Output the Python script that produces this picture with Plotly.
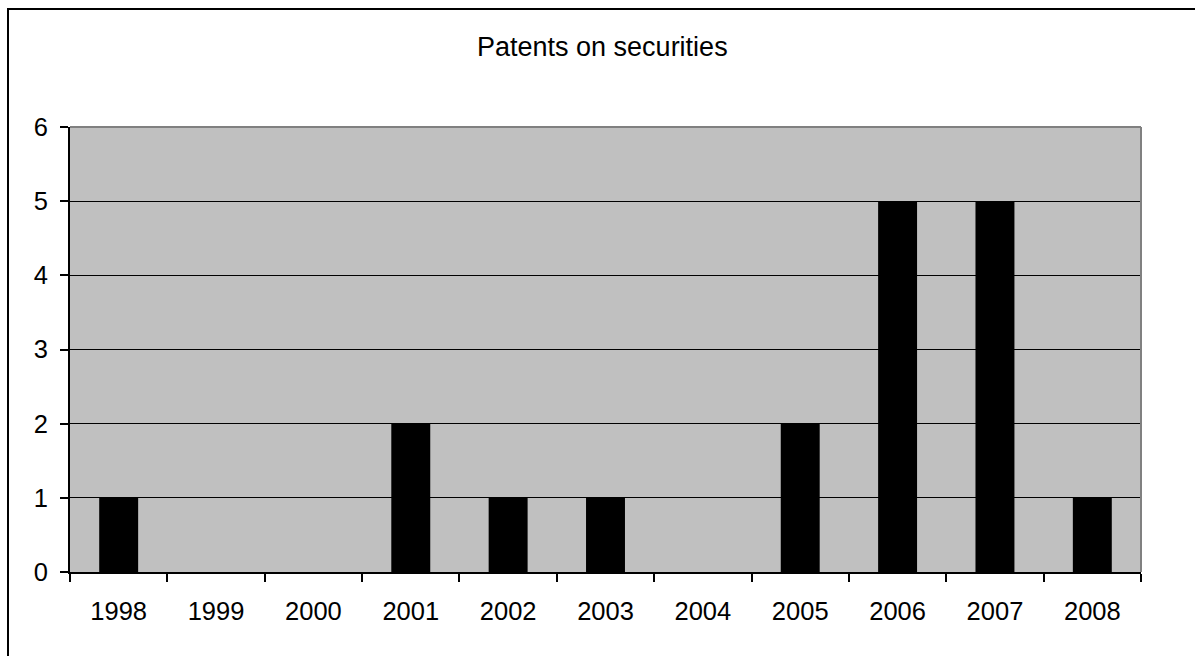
import plotly.graph_objects as go

years = ["1998", "1999", "2000", "2001", "2002", "2003", "2004", "2005", "2006", "2007", "2008"]
patents = [1, 0, 0, 2, 1, 1, 0, 2, 5, 5, 1]
y_ticks = [0, 1, 2, 3, 4, 5, 6]

W, H = 1195, 656
L, R, T, B = 70, 1141, 127, 572
pw, ph = R - L, B - T


def px_x(x):
    return (x - L) / pw


def px_y(y):
    return (B - y) / ph


FONT = "Liberation Sans, Arial, sans-serif"
TICK_SIZE = 25.5

fig = go.Figure(
    go.Bar(x=years, y=patents, marker=dict(color="black", line=dict(width=0)))
)

fig.update_layout(
    width=W,
    height=H,
    margin=dict(l=L, r=W - R, t=T, b=H - B),
    paper_bgcolor="white",
    plot_bgcolor="#C0C0C0",
    bargap=0.6,
    showlegend=False,
    font=dict(family=FONT, color="black", size=TICK_SIZE),
)

fig.update_xaxes(
    type="category",
    tickson="boundaries",
    ticks="outside",
    ticklen=8,
    tickwidth=2,
    tickcolor="black",
    showline=True,
    linecolor="black",
    linewidth=2,
    showgrid=False,
    tickfont=dict(size=TICK_SIZE, family=FONT, color="black"),
    ticklabelstandoff=15,
)

fig.update_yaxes(
    range=[0, 6],
    tickvals=y_ticks,
    ticks="outside",
    ticklen=8,
    tickwidth=2,
    tickcolor="black",
    showline=True,
    linecolor="black",
    linewidth=2,
    showgrid=True,
    gridcolor="black",
    gridwidth=1,
    zeroline=False,
    tickfont=dict(size=TICK_SIZE, family=FONT, color="black"),
    ticklabelstandoff=7,
)

# grey top and right edges of the plot area
fig.add_shape(type="line", xref="paper", yref="paper", x0=0, x1=1, y0=1, y1=1,
              line=dict(color="#808080", width=2))
fig.add_shape(type="line", xref="paper", yref="paper", x0=1, x1=1, y0=0, y1=1,
              line=dict(color="#808080", width=2))

# outer chart frame
fig.add_shape(type="rect", xref="paper", yref="paper",
              x0=px_x(8), x1=px_x(1230), y0=px_y(700), y1=px_y(9),
              line=dict(color="black", width=2), fillcolor="rgba(0,0,0,0)")

fig.add_annotation(
    text="Patents on securities",
    xref="paper", yref="paper",
    x=px_x(602), y=px_y(47),
    xanchor="center", yanchor="middle",
    showarrow=False,
    font=dict(size=27, family=FONT, color="black"),
)

fig.write_html("out.html")
